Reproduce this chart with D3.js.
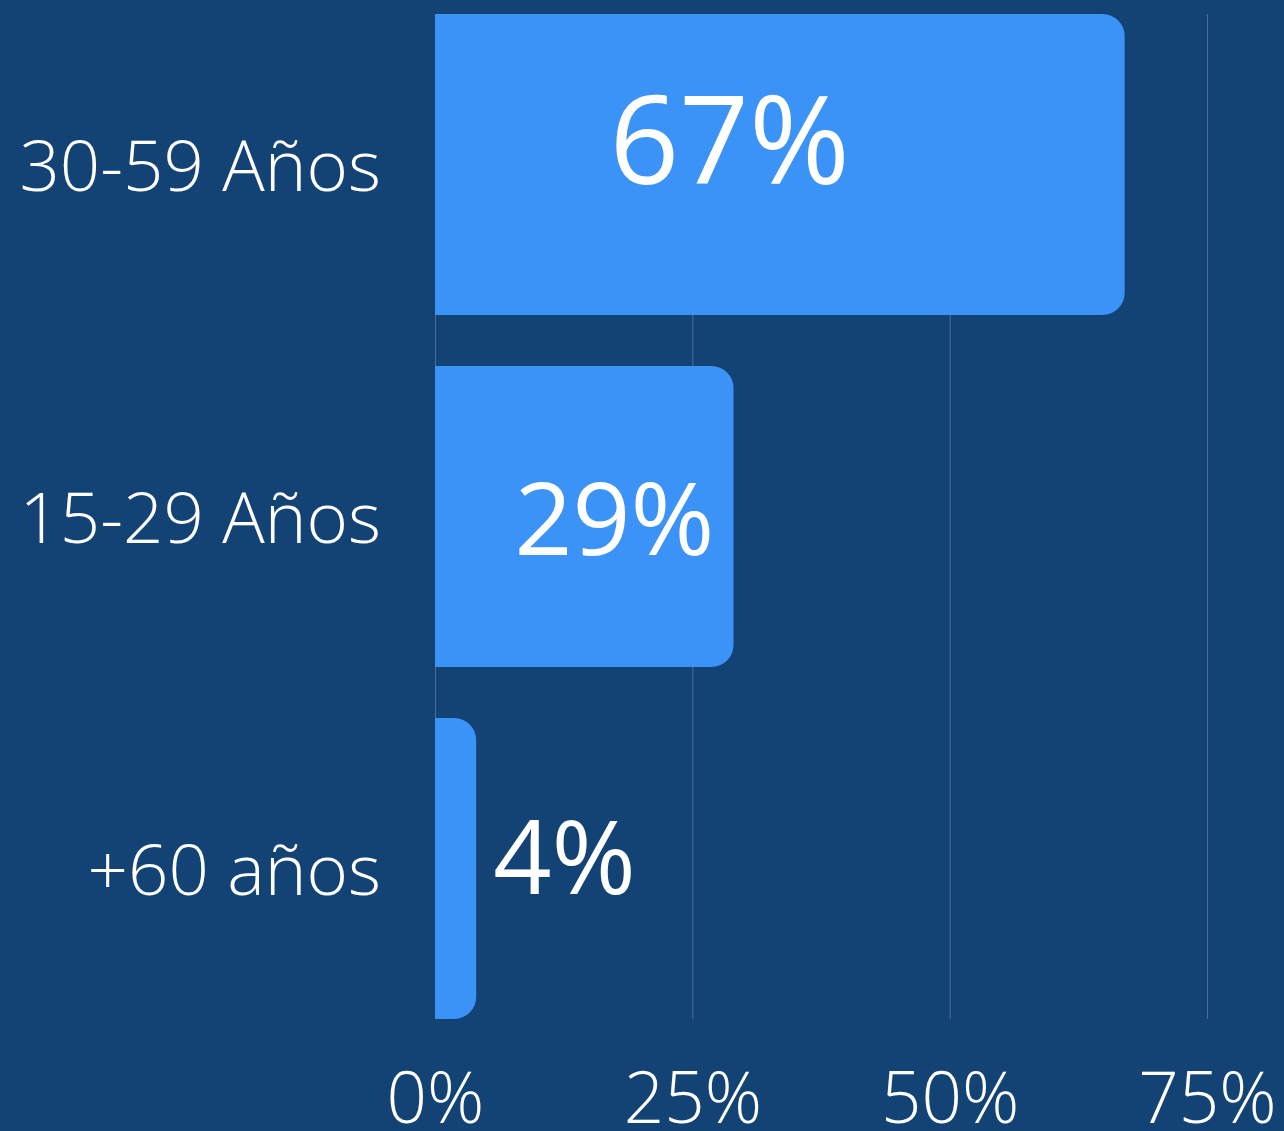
<!DOCTYPE html>
<html>
<head>
    <meta charset="utf-8">
    <title>Edades</title>
    <script src="https://cdn.jsdelivr.net/npm/d3@7"></script>
    <style>
        html, body { margin: 0; padding: 0; background: #134375; }
        svg { display: block; }
    </style>
</head>

<body>

<script type="text/javascript">
    // data
    var categories = ["30-59 Años", "15-29 Años", "+60 años"],
        values = [67, 29, 4],
        tickValues = [0, 25, 50, 75];

    var width = 1284,
        height = 1131,
        barColor = "#3b92f7",
        gridColor = "#4d6d96",
        radius = 22;

    // where each value label sits relative to the bar end
    var labelPlace = [
        {anchor: "middle", dx: -395, dy: 20, size: 122},
        {anchor: "end", dx: -19, dy: 38, size: 101.5},
        {anchor: "start", dx: 17, dy: 25, size: 102}
    ];

    var svg = d3.select("body").append("svg")
        .attr("width", width)
        .attr("height", height)
        .style("font-family", "'Open Sans', sans-serif");

    svg.append("rect").attr("width", width).attr("height", height).attr("fill", "#134375");

    var x = d3.scaleLinear().domain([0, 75]).range([435, 1207]);
    var y = d3.scaleBand().domain(categories).range([14, 1019]).paddingInner(0.145).paddingOuter(0);

    // grid
    svg.append("g").selectAll("line")
        .data(tickValues)
        .enter().append("line")
        .attr("x1", function (d) { return x(d) + 0.5; })
        .attr("x2", function (d) { return x(d) + 0.5; })
        .attr("y1", 14).attr("y2", 1019)
        .attr("stroke", gridColor)
        .attr("stroke-width", 1);

    function barPath(v, cat) {
        var x0 = x(0), x1 = x(v), y0 = y(cat), h = y.bandwidth();
        var r = Math.min(radius, (x1 - x0));
        return "M" + x0 + "," + y0 +
            "H" + (x1 - r) +
            "A" + r + "," + r + " 0 0 1 " + x1 + "," + (y0 + r) +
            "V" + (y0 + h - r) +
            "A" + r + "," + r + " 0 0 1 " + (x1 - r) + "," + (y0 + h) +
            "H" + x0 + "Z";
    }

    svg.append("g").selectAll("path.bar")
        .data(values)
        .enter().append("path")
        .attr("class", "bar")
        .attr("fill", barColor)
        .attr("d", function (d, i) { return barPath(d, categories[i]); });

    // value labels
    svg.append("g").selectAll("text")
        .data(values)
        .enter().append("text")
        .attr("x", function (d, i) { return x(d) + labelPlace[i].dx; })
        .attr("y", function (d, i) { return y(categories[i]) + y.bandwidth() / 2 + labelPlace[i].dy; })
        .attr("text-anchor", function (d, i) { return labelPlace[i].anchor; })
        .attr("font-size", function (d, i) { return labelPlace[i].size; })
        .attr("fill", "#ffffff")
        .text(function (d) { return d + "%"; });

    // category labels
    var yAxis = d3.axisLeft(y).tickSize(0).tickPadding(0);
    var yg = svg.append("g").attr("transform", "translate(381,0)").call(yAxis);
    yg.select(".domain").remove();
    yg.selectAll("text")
        .attr("fill", "#ffffff")
        .attr("font-size", 70.8)
        .attr("font-weight", 300)
        .attr("font-family", "'Open Sans', sans-serif")
        .attr("dy", "0.38em");

    // x axis labels
    var xAxis = d3.axisBottom(x).tickValues(tickValues).tickSize(0).tickPadding(0)
        .tickFormat(function (d) { return d + "%"; });
    var xg = svg.append("g").attr("transform", "translate(0,1123)").call(xAxis);
    xg.select(".domain").remove();
    xg.selectAll("text")
        .attr("fill", "#ffffff")
        .attr("font-size", 71)
        .attr("font-weight", 300)
        .attr("font-family", "'Open Sans', sans-serif")
        .attr("dy", 0);
</script>

</body>
</html>
